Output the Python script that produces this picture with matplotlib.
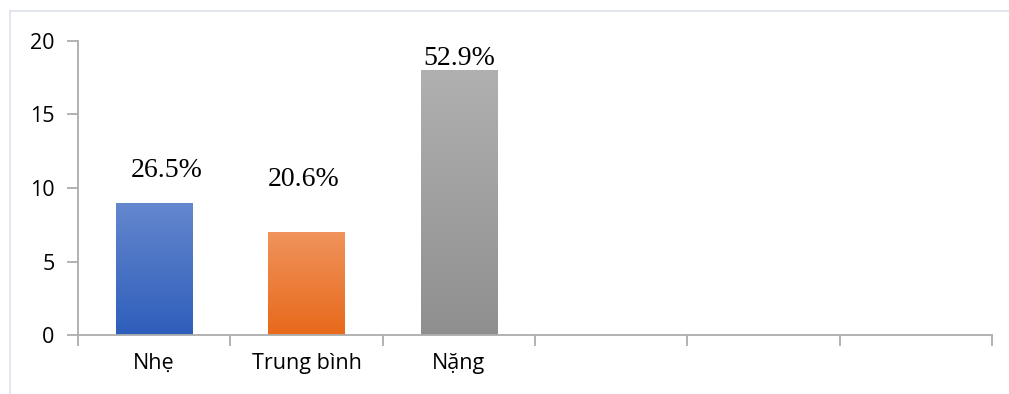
import numpy as np
import matplotlib.pyplot as plt
from matplotlib.colors import LinearSegmentedColormap
from matplotlib.lines import Line2D

categories = ["Nhẹ", "Trung bình", "Nặng", "", "", ""]
counts = [9, 7, 18]
top_colors = ["#6587CE", "#F0935C", "#B0B0B0"]
bottom_colors = ["#2E5EBB", "#E8691A", "#8F8F8F"]
# where each percentage label sits relative to its bar (x shift, y lift)
label_shift = [0.08, -0.02, 0.0]
label_lift = [1.75, 3.14, 0.37]

total = sum(counts)
percents = [100.0 * c / total for c in counts]

fig = plt.figure(figsize=(10.09, 3.94), dpi=100)
ax = fig.add_axes([78/1009, 59/394, 914/1009, 294/394])

x = np.arange(len(categories))
bars = ax.bar(x[:len(counts)], counts, width=0.5, color="none", zorder=2)

grad = np.linspace(0, 1, 256).reshape(-1, 1)
for b, c1, c2 in zip(bars, top_colors, bottom_colors):
    cmap = LinearSegmentedColormap.from_list("g", [c2, c1])
    bx, by = b.get_x(), b.get_y()
    im = ax.imshow(grad, cmap=cmap, aspect="auto", origin="lower",
                   extent=[bx, bx + b.get_width(), by, by + b.get_height()],
                   zorder=2)
    im.set_clip_path(b)

for i, (c, p) in enumerate(zip(counts, percents)):
    ax.text(x[i] + label_shift[i], c + label_lift[i], f"{p:.1f}%",
            ha="center", va="baseline",
            family="Liberation Serif", fontsize=20, color="#000000")

ax.set_xlim(-0.5, len(categories) - 0.5)
ax.set_ylim(0, 20)
ax.set_yticks([0, 5, 10, 15, 20])
ax.set_xticks(x)
ax.set_xticklabels(categories, family="Open Sans", fontsize=15.5)
ax.set_xticks(np.arange(len(categories) + 1) - 0.5, minor=True)

for s in ["top", "right"]:
    ax.spines[s].set_visible(False)
for s in ["left", "bottom"]:
    ax.spines[s].set_color("#ADADAD")
    ax.spines[s].set_linewidth(1.3)

ax.tick_params(axis="x", which="major", length=0, pad=13)
ax.tick_params(axis="x", which="minor", length=8, width=1.3, color="#ADADAD")
ax.tick_params(axis="y", length=8, width=1.3, color="#ADADAD", pad=9,
               labelsize=15.5)
for t in ax.get_yticklabels():
    t.set_family("Open Sans")

# light outline of the chart area
fig.add_artist(Line2D([10/1009, 1.0], [1 - 11/394, 1 - 11/394],
                      transform=fig.transFigure, color="#DDE3EC", lw=1.2))
fig.add_artist(Line2D([10/1009, 10/1009], [0, 1 - 11/394],
                      transform=fig.transFigure, color="#DDE3EC", lw=1.2))

fig.savefig("out.png", dpi=100)
